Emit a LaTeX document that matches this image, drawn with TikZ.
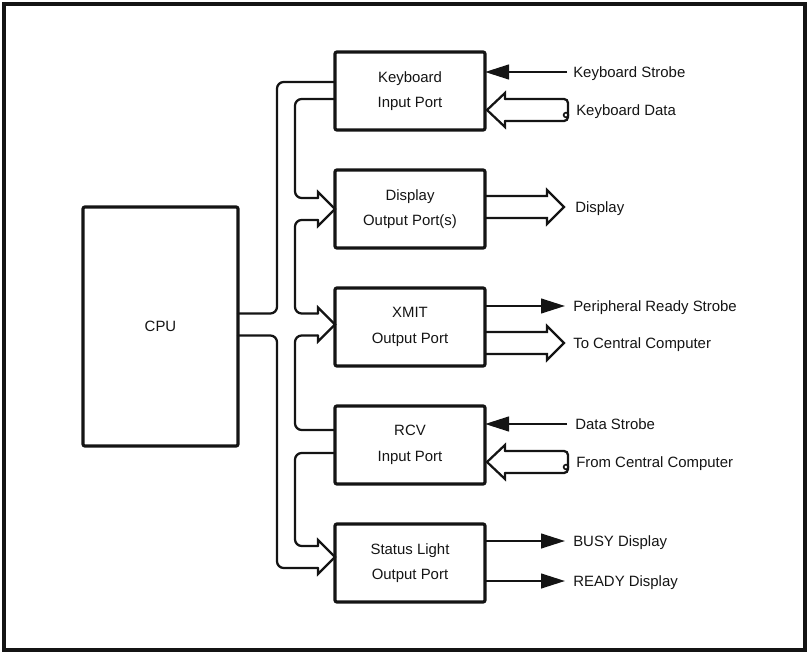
\documentclass[tikz,border=0pt]{standalone}
\usepackage{fontspec}
\setmainfont{Liberation Sans}
\usepackage{xcolor}
\usepackage{tikz}
\usetikzlibrary{arrows.meta,positioning,calc}
\definecolor{ink}{RGB}{20,20,20}

\begin{document}
\begin{tikzpicture}[x=0.75pt,y=-0.75pt,
  unit/.style={draw=ink,line width=2.4pt,rounded corners=1.5pt,minimum width=112.5pt,minimum height=58.5pt,outer sep=0pt,align=center,text=ink,font=\fontsize{11.2}{19}\selectfont},
  bus/.style={draw=ink,line width=1.7pt,line cap=round},
  sig/.style={draw=ink,line width=1.7pt,-{Triangle[length=18pt,width=11pt]}},
  lbl/.style={anchor=west,inner sep=0pt,text height=8.1pt,text depth=0pt,text=ink,font=\fontsize{11.2}{13}\selectfont}]
\useasboundingbox (0,0) rectangle (807,652);
\draw[ink,line width=2.4pt] (4,4) rectangle (805,650);
\node[unit,minimum width=116.25pt,minimum height=179.25pt] (cpu) at (160.5,326.5) {CPU};
\node[unit] (kbd) at (410,91) {Keyboard\\Input Port};
\node[unit,below=30pt of kbd] (disp) {Display\\Output Port(s)};
\node[unit,below=30pt of disp] (xmit) {XMIT\\Output Port};
\node[unit,below=30pt of xmit] (rcv) {RCV\\Input Port};
\node[unit,below=30pt of rcv] (stat) {Status Light\\Output Port};
\node[lbl] (kstb) at (573,72) {Keyboard Strobe};
\node[lbl] (kdat) at (576,110) {Keyboard Data};
\node[lbl] (dsp) at (575,207) {Display};
\node[lbl] (prs) at (573,306) {Peripheral Ready Strobe};
\node[lbl] (tcc) at (573,343) {To Central Computer};
\node[lbl] (dstb) at (575,424) {Data Strobe};
\node[lbl] (fcc) at (576,462) {From Central Computer};
\node[lbl] (busy) at (573,541) {BUSY Display};
\node[lbl] (rdy) at (573,581) {READY Display};
\draw[bus,rounded corners=5pt] ($(kbd.west)+(0,-9)$) -- ++(-58,0) |- ($(cpu.east)+(0,-13)$);
\draw[bus,rounded corners=5pt] ($(cpu.east)+(0,9)$) -- ++(39,0) |- ($(stat.west)+(-17,5)$);
\draw[bus,rounded corners=5pt] ($(kbd.west)+(0,8)$) -- ++(-40,0) |- ($(disp.west)+(-17,-11)$);
\draw[bus,rounded corners=5pt] ($(disp.west)+(-17,11)$) -- ++(-23,0) |- ($(xmit.west)+(-17,-13.5)$);
\draw[bus,rounded corners=5pt] ($(xmit.west)+(-17,8.5)$) -- ++(-23,0) |- ($(rcv.west)+(0,-15)$);
\draw[bus,rounded corners=5pt] ($(rcv.west)+(0,8)$) -- ++(-40,0) |- ($(stat.west)+(-17,-17)$);
\draw[bus] ($(disp.west)+(-17,-11)$) -- ++(0,-6) -- (disp.west) -- ++(-17,17) -- ++(0,-6);
\draw[bus] ($(xmit.west)+(-17,-13.5)$) -- ++(0,-6) -- ($(xmit.west)+(0,-2.5)$) -- ++(-17,17) -- ++(0,-6);
\draw[bus] ($(stat.west)+(-17,-17)$) -- ++(0,-6) -- ($(stat.west)+(0,-6)$) -- ++(-17,17) -- ++(0,-6);
\draw[sig] ([xshift=-4.5pt]kstb.west) -- (kbd.east |- kstb.west);
\draw[bus] ($(kdat.west)+(-71,11)$) -- ++(0,6) -- ($(kbd.east |- kdat.west)+(2,0)$) -- ++(18,-17) -- ++(0,6);
\draw[bus,rounded corners=3pt] ($(kdat.west)+(-71,-11)$) -- ++(63,0) -- ++(0,22) -- ++(-63,0);
\draw[ink,line width=1.2pt] ($(kdat.west)+(-10,5)$) circle (1.8pt);
\draw[bus] ($(disp.east |- dsp.west)+(0,-11)$) -- ++(62,0) -- ++(0,-6) -- ($(dsp.west)+(-11,0)$) -- ++(-17,17) -- ++(0,-6) -- ($(disp.east |- dsp.west)+(0,11)$);
\draw[sig] (xmit.east |- prs.west) -- ([xshift=-6pt]prs.west);
\draw[bus] ($(xmit.east |- tcc.west)+(0,-11)$) -- ++(62,0) -- ++(0,-6) -- ($(tcc.west)+(-9,0)$) -- ++(-17,17) -- ++(0,-6) -- ($(xmit.east |- tcc.west)+(0,11)$);
\draw[sig] ([xshift=-6pt]dstb.west) -- (rcv.east |- dstb.west);
\draw[bus] ($(fcc.west)+(-71,11)$) -- ++(0,6) -- ($(rcv.east |- fcc.west)+(2,0)$) -- ++(18,-17) -- ++(0,6);
\draw[bus,rounded corners=3pt] ($(fcc.west)+(-71,-11)$) -- ++(63,0) -- ++(0,22) -- ++(-63,0);
\draw[ink,line width=1.2pt] ($(fcc.west)+(-10,5)$) circle (1.8pt);
\draw[sig] (stat.east |- busy.west) -- ([xshift=-6pt]busy.west);
\draw[sig] (stat.east |- rdy.west) -- ([xshift=-6pt]rdy.west);
\end{tikzpicture}
\end{document}
